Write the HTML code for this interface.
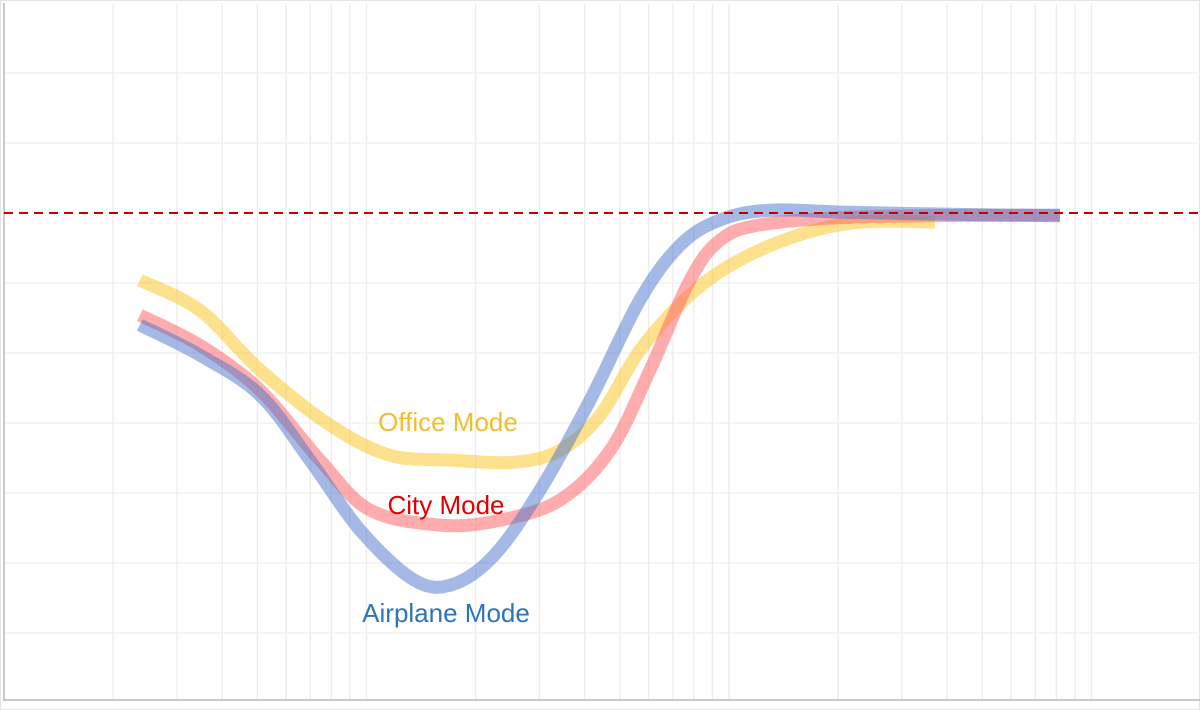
<!DOCTYPE html>
<html><head><meta charset="utf-8"><style>
html,body{margin:0;padding:0;background:#fff;}
svg{display:block;font-family:"Liberation Sans",sans-serif;}
</style></head><body>
<svg id="chart" width="1200" height="710" viewBox="0 0 1200 710">
<rect x="0" y="0" width="1200" height="710" fill="#fff"/>
<rect x="0.5" y="0.5" width="1199" height="709" fill="none" stroke="#e4e4e4"/>
<g id="grid"></g>
<g id="series"></g>
<g id="labels"></g>
</svg>
<script>
const freqs = {
  office: [23.7,34.7,50.8,79.3,116,170,257,342,441,568,780,1072,1570,2297,3700],
  city:   [23.7,34.7,50.8,74.4,102,160,233,342,470,606,780,944,1218,2158,5597,8185],
  airplane:[23.7,34.7,50.8,69.8,96,135,172,225,301,414,568,733,944,1297,2158,5597,8185]
};
const officeDb   = [-9.6,-13.9,-22.4,-30.3,-34.6,-35.3,-35.6,-33.9,-28.9,-19.6,-11.7,-6.7,-3.1,-1.3,-1.3];
const cityDb     = [-14.6,-18.9,-25.3,-35.3,-42.4,-44.6,-43.9,-41.0,-33.9,-22.4,-9.6,-3.9,-1.7,-0.6,-0.3,-0.4];
const airplaneDb = [-16.0,-20.3,-26.0,-35.3,-45.3,-52.4,-53.1,-48.9,-39.6,-26.7,-12.4,-4.6,-1.0,0.4,0.1,-0.3,-0.3];
const gridDb = [20,10,-10,-20,-30,-40,-50,-60];
const decades = [10,100,1000,10000];

const X0=4, DEC=362.5, Y0=213, PXDB=7;
function xs(f){return X0+DEC*Math.log10(f/10);}
function ys(db){return Y0-db*PXDB;}
const NS='http://www.w3.org/2000/svg';
function mk(tag,parent){const e=document.createElementNS(NS,tag);parent.appendChild(e);return e;}

const grid=document.getElementById('grid');
decades.forEach(d=>{
  for(let k=1;k<=9;k++){
    const f=d*k; const x=xs(f);
    if(x<=X0+1||x>=1199) continue;
    const l=mk('line',grid);
    
    
    l.setAttribute('x1',x);l.setAttribute('x2',x);l.setAttribute('y1',4);l.setAttribute('y2',700);
    l.setAttribute('stroke','#ececec');l.setAttribute('stroke-width','1.3');
  }
});
gridDb.forEach(db=>{
  const y=ys(db);
  const l=mk('line',grid);
  
  
  l.setAttribute('x1',X0);l.setAttribute('x2',1200);l.setAttribute('y1',y);l.setAttribute('y2',y);
  l.setAttribute('stroke','#efefef');l.setAttribute('stroke-width','1.3');
});
const ax=mk('line',grid);


ax.setAttribute('x1',X0);ax.setAttribute('x2',X0);ax.setAttribute('y1',3);ax.setAttribute('y2',701);
ax.setAttribute('stroke','#b8b8b8');ax.setAttribute('stroke-width','1.5');
const bx=mk('line',grid);


bx.setAttribute('x1',X0);bx.setAttribute('x2',1200);bx.setAttribute('y1',700);bx.setAttribute('y2',700);
bx.setAttribute('stroke','#b8b8b8');bx.setAttribute('stroke-width','1.5');

function smoothPath(pts){
  let d='M'+pts[0][0]+','+pts[0][1];
  for(let i=0;i<pts.length-1;i++){
    const p0=pts[i-1]||pts[i],p1=pts[i],p2=pts[i+1],p3=pts[i+2]||p2;
    const c1x=p1[0]+(p2[0]-p0[0])/6,c1y=p1[1]+(p2[1]-p0[1])/6;
    const c2x=p2[0]-(p3[0]-p1[0])/6,c2y=p2[1]-(p3[1]-p1[1])/6;
    d+=' C'+c1x+','+c1y+' '+c2x+','+c2y+' '+p2[0]+','+p2[1];
  }
  return d;
}
const series=document.getElementById('series');
function drawSeries(fs,dbs,color,name){
  const pts=fs.map((f,i)=>[xs(f),ys(dbs[i])]);
  const p=mk('path',series);
  
  
  p.setAttribute('d',smoothPath(pts));
  p.setAttribute('fill','none');p.setAttribute('stroke',color);
  p.setAttribute('stroke-width','13');p.setAttribute('stroke-opacity','0.5');
}
drawSeries(freqs.office,officeDb,'#fcc419','office-mode-line');
drawSeries(freqs.city,cityDb,'#ff5a5f','city-mode-line');
drawSeries(freqs.airplane,airplaneDb,'#4a74cc','airplane-mode-line');

const ref=mk('line',series);


ref.setAttribute('x1',X0);ref.setAttribute('x2',1200);ref.setAttribute('y1',ys(0));ref.setAttribute('y2',ys(0));
ref.setAttribute('stroke','#c00000');ref.setAttribute('stroke-width','2');ref.setAttribute('stroke-dasharray','9,6');

const labels=document.getElementById('labels');
function label(txt,x,y,color,name){
  const t=mk('text',labels);
  
  
  t.setAttribute('x',x);t.setAttribute('y',y);t.setAttribute('fill',color);
  t.setAttribute('font-size','26');t.setAttribute('text-anchor','middle');
  t.textContent=txt;
}
label('Office Mode',448,431,'#f2bd2b','office-mode-label');
label('City Mode',446,514,'#e00000','city-mode-label');
label('Airplane Mode',446,622,'#2e75b6','airplane-mode-label');
</script>
</body></html>
